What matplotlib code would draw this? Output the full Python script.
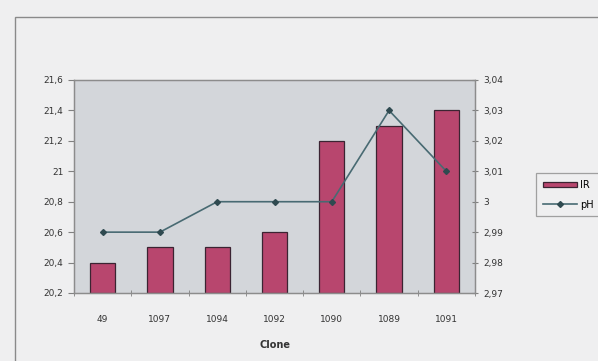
import matplotlib.pyplot as plt
from matplotlib.patches import Rectangle
from matplotlib.ticker import FuncFormatter, MultipleLocator
import numpy as np

clones = ["49", "1097", "1094", "1092", "1090", "1089", "1091"]
ir_values = [20.4, 20.5, 20.5, 20.6, 21.2, 21.3, 21.4]
ph_values = [2.99, 2.99, 3.00, 3.00, 3.00, 3.03, 3.01]


def comma(v, pos, nd):
    s = f"{v:.{nd}f}".rstrip("0").rstrip(".")
    return s.replace(".", ",")


fig = plt.figure(figsize=(5.98, 3.61), dpi=100)
fig.patch.set_facecolor("#efeff0")

# outer chart frame
fig.patches.append(Rectangle((15 / 598, -0.1), 1.2, 1 - 17 / 361 + 0.1,
                             transform=fig.transFigure, fill=False,
                             edgecolor="#8a8a8a", linewidth=1.0))

ax1 = fig.add_axes([74 / 598, 68 / 361, 401 / 598, 213 / 361])
ax1.set_facecolor("#d3d6da")
x = np.arange(len(clones))
bars = ax1.bar(x, [v - 20.2 for v in ir_values], bottom=20.2, width=0.44,
               color="#b8466e", edgecolor="#3b2432", linewidth=0.9, label="IR")
ax1.set_xlim(-0.5, len(clones) - 0.5)
ax1.set_ylim(20.2, 21.6)
ax1.yaxis.set_major_locator(MultipleLocator(0.2))
ax1.yaxis.set_major_formatter(FuncFormatter(lambda v, p: comma(v, p, 1)))
ax1.set_xticks(x)
ax1.set_xticklabels(clones)
ax1.set_xticks(np.arange(-0.5, len(clones)), minor=True)
ax1.tick_params(axis="x", which="major", length=0, pad=15.5)
ax1.tick_params(axis="x", which="minor", direction="inout", length=5,
                color="#808080")
ax1.tick_params(axis="y", direction="out", length=4, color="#808080")
ax1.tick_params(labelsize=6.5, labelcolor="#333333")
ax1.set_xlabel("Clone", fontsize=7, fontweight="bold", color="#333333",
               labelpad=12)

ax2 = ax1.twinx()
line, = ax2.plot(x, ph_values, color="#486a72", linewidth=1.2, marker="D",
                 markersize=3, markerfacecolor="#2f4a50",
                 markeredgecolor="#2f4a50", label="pH")
ax2.set_ylim(2.97, 3.04)
ax2.yaxis.set_major_locator(MultipleLocator(0.01))
ax2.yaxis.set_major_formatter(FuncFormatter(lambda v, p: comma(v, p, 2)))
ax2.tick_params(axis="y", direction="inout", length=5, color="#808080",
                labelsize=6.5, labelcolor="#333333")

for ax in (ax1, ax2):
    for sp in ax.spines.values():
        sp.set_color("#8c8c8c")
        sp.set_linewidth(0.9)

leg = fig.legend([bars, line], ["IR", "pH"], loc="upper left",
                 bbox_to_anchor=(536 / 598, 1 - 173 / 361),
                 fontsize=7, frameon=True, fancybox=False,
                 handlelength=3.5, handleheight=0.5, handletextpad=0.3,
                 borderpad=0.7, labelspacing=1.0, borderaxespad=0)
leg.get_frame().set_edgecolor("#8c8c8c")
leg.get_frame().set_facecolor("#efeff0")
leg.get_frame().set_linewidth(0.9)

fig.savefig("out.png", dpi=100, facecolor=fig.get_facecolor())
